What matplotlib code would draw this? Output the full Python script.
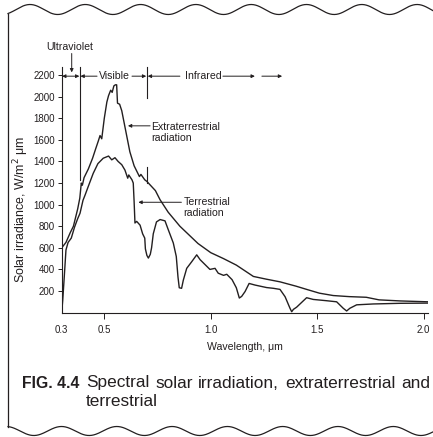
import numpy as np
import matplotlib
matplotlib.use("Agg")
import matplotlib.pyplot as plt

plt.rcParams['font.family'] = ['Liberation Sans', 'DejaVu Sans']
ink = '#231f20'

# extraterrestrial curve (wavelength um, W/m2 um)
ext_wl = [0.300, 0.320, 0.340, 0.355, 0.365, 0.375, 0.385, 0.392, 0.397, 0.405,
          0.425, 0.445, 0.460, 0.472, 0.480, 0.488, 0.500, 0.512, 0.520, 0.530,
          0.537, 0.545, 0.552, 0.558, 0.562, 0.572, 0.582, 0.595, 0.605, 0.620,
          0.640, 0.665, 0.672, 0.690, 0.700, 0.740, 0.762, 0.800, 0.855, 0.940,
          1.000, 1.060, 1.120, 1.200, 1.260, 1.325, 1.400, 1.450, 1.510, 1.575,
          1.650, 1.730, 1.790, 1.890, 2.020]
ext_val = [600, 650, 740, 800, 880, 960, 1060, 1200, 1180, 1250,
           1330, 1430, 1520, 1590, 1640, 1610, 1800, 1950, 2010, 2060,
           2040, 2100, 2110, 2110, 1940, 1930, 1870, 1740, 1640, 1490,
           1360, 1260, 1280, 1230, 1215, 1130, 1045, 930, 800, 640,
           555, 500, 440, 335, 310, 285, 245, 215, 180, 158,
           148, 142, 118, 108, 100]

# terrestrial curve
ter_wl = [0.300, 0.305, 0.312, 0.320, 0.330, 0.345, 0.360, 0.375, 0.386, 0.400,
          0.410, 0.425, 0.448, 0.470, 0.495, 0.520, 0.535, 0.550, 0.565, 0.582,
          0.597, 0.610, 0.615, 0.630, 0.636, 0.640, 0.644, 0.652, 0.668, 0.680,
          0.690, 0.693, 0.700, 0.707, 0.716, 0.722, 0.730, 0.745, 0.762, 0.785,
          0.800, 0.824, 0.838, 0.846, 0.852, 0.863, 0.871, 0.887, 0.910, 0.934,
          0.950, 0.973, 0.996, 1.020, 1.035, 1.060, 1.075, 1.100, 1.120, 1.134,
          1.145, 1.161, 1.180, 1.208, 1.262, 1.294, 1.325, 1.349, 1.372, 1.380,
          1.388, 1.403, 1.419, 1.450, 1.481, 1.544, 1.591, 1.622, 1.638, 1.653,
          1.685, 1.763, 1.888, 2.020]
ter_val = [0, 120, 330, 580, 650, 690, 790, 870, 920, 1040,
           1090, 1170, 1290, 1380, 1430, 1450, 1415, 1435, 1400, 1370,
           1320, 1245, 1275, 1230, 1200, 1030, 830, 845, 810, 730,
           690, 590, 530, 505, 540, 600, 730, 840, 862, 850,
           770, 645, 520, 330, 230, 225, 300, 410, 470, 535,
           490, 445, 400, 410, 365, 345, 355, 305, 230, 135,
           150, 195, 270, 255, 232, 225, 215, 147, 40, 8,
           30, 50, 80, 138, 122, 110, 100, 40, 15, 40,
           72, 80, 86, 88]

y_ticks = [200, 400, 600, 800, 1000, 1200, 1400, 1600, 1800, 2000, 2200]
x_ticks = [0.3, 0.5, 1.0, 1.5, 2.0]
x_tick_labels = ['0.3', '0.5', '1.0', '1.5', '2.0']

W, H = 433, 437
fig = plt.figure(figsize=(W / 100, H / 100), dpi=100)

# page frame: wavy top/bottom edges and left rule
bg = fig.add_axes([0, 0, 1, 1])
bg.set_xlim(0, W)
bg.set_ylim(H, 0)
bg.axis('off')
xs = np.linspace(8, W, 600)
bg.plot(xs, 9.5 - 5.0 * np.cos(2 * np.pi * (xs - 30) / 55.3), color=ink, lw=0.9)
bg.plot(xs, 431 - 4.5 * np.cos(2 * np.pi * (xs - 338) / 55.3), color=ink, lw=0.9)
top_y = 9.5 - 5.0 * np.cos(2 * np.pi * (8 - 30) / 55.3)
bot_y = 431 - 4.5 * np.cos(2 * np.pi * (8 - 338) / 55.3)
bg.plot([8, 8], [top_y, bot_y], color=ink, lw=0.9)

# main axes
x0, x1 = 61.7, 428.0
y0, y1 = 312.6, 67.0
ax = fig.add_axes([x0 / W, 1 - y0 / H, (x1 - x0) / W, (y0 - y1) / H])
ax.patch.set_alpha(0)
ax.set_xlim(0.3, 2.02)
ax.set_ylim(0, 2275)

ax.plot(ext_wl, ext_val, color=ink, lw=1.0)
ax.plot(ter_wl, ter_val, color=ink, lw=1.0)

for s in ['top', 'right']:
    ax.spines[s].set_visible(False)
for s in ['left', 'bottom']:
    ax.spines[s].set_linewidth(0.8)
    ax.spines[s].set_color(ink)
ax.set_yticks(y_ticks)
ax.set_yticklabels([str(v) for v in y_ticks])
ax.set_xticks(x_ticks)
ax.set_xticklabels(x_tick_labels)
ax.tick_params(axis='y', direction='out', length=3, width=0.7, pad=2,
               labelsize=7, colors=ink)
ax.tick_params(axis='x', direction='out', length=4, width=0.7, pad=5,
               labelsize=7, colors=ink)
ax.xaxis.get_major_ticks()[0].tick1line.set_visible(False)

# region boundaries
ax.plot([0.385, 0.385], [1230, 2275], color=ink, lw=0.8, clip_on=False)
ax.plot([0.70, 0.70], [1990, 2275], color=ink, lw=0.8, clip_on=False)
ax.plot([0.70, 0.70], [1200, 1350], color=ink, lw=0.8, clip_on=False)

arr = dict(arrowstyle='-|>', color=ink, lw=0.7, mutation_scale=5,
           shrinkA=0, shrinkB=0)
arr2 = dict(arrowstyle='<|-|>', color=ink, lw=0.7, mutation_scale=5,
            shrinkA=0, shrinkB=0)
yb = 2190
fs = 7.6
ax.annotate('', xy=(0.302, yb), xytext=(0.383, yb), arrowprops=arr2,
            annotation_clip=False)
ax.annotate('', xy=(0.388, yb), xytext=(0.466, yb), arrowprops=arr,
            annotation_clip=False)
ax.annotate('', xy=(0.697, yb), xytext=(0.63, yb), arrowprops=arr,
            annotation_clip=False)
ax.annotate('', xy=(0.704, yb), xytext=(0.855, yb), arrowprops=arr,
            annotation_clip=False)
ax.annotate('', xy=(1.207, yb), xytext=(1.057, yb), arrowprops=arr,
            annotation_clip=False)
ax.annotate('', xy=(1.335, yb), xytext=(1.24, yb), arrowprops=arr,
            annotation_clip=False)
ax.text(0.548, yb, 'Visible', ha='center', va='center', fontsize=fs, color=ink)
ax.text(0.963, yb, 'Infrared', ha='center', va='center', fontsize=fs, color=ink)
ax.annotate('', xy=(0.347, 2225), xytext=(0.347, 2400), arrowprops=arr,
            annotation_clip=False)
ax.text(0.338, 2460, 'Ultraviolet', ha='center', va='center', fontsize=fs,
        color=ink)

# curve labels
ax.annotate('', xy=(0.611, 1730), xytext=(0.715, 1730), arrowprops=arr)
ax.text(0.722, 1668, 'Extraterrestrial\nradiation', ha='left', va='center',
        fontsize=fs, color=ink, linespacing=1.2)
ax.annotate('', xy=(0.66, 1022), xytext=(0.862, 1022), arrowprops=arr)
ax.text(0.871, 975, 'Terrestrial\nradiation', ha='left', va='center',
        fontsize=fs, color=ink, linespacing=1.2)

# axis titles
fig.text(21.7 / W, 1 - 209 / H, 'Solar irradiance, W/m$^2$ \u03bcm',
         rotation=90, ha='center', va='center', fontsize=8.9, color=ink)
fig.text(245 / W, 1 - 347 / H, 'Wavelength, \u03bcm', ha='center',
         va='center', fontsize=7.6, color=ink)

# caption, first line justified between x=86 and x=430
cap_fs = 12.4
fig.text(22 / W, 1 - 383 / H, 'FIG. 4.4', ha='left', va='center',
         fontsize=11.3, fontweight='bold', color=ink)
cap_words = 'Spectral solar irradiation, extraterrestrial and'.split()
renderer = fig.canvas.get_renderer()
objs = [fig.text(0, 1 - 383 / H, w, ha='left', va='center', fontsize=cap_fs,
                 color=ink) for w in cap_words]
widths = [t.get_window_extent(renderer).width for t in objs]
gap = (430 - 86 - sum(widths)) / (len(cap_words) - 1)
xpos = 86
for t, w in zip(objs, widths):
    t.set_x(xpos / W)
    xpos += w + gap
fig.text(86 / W, 1 - 402 / H, 'terrestrial', ha='left', va='center',
         fontsize=cap_fs, color=ink)

fig.savefig('out.png', dpi=100)
